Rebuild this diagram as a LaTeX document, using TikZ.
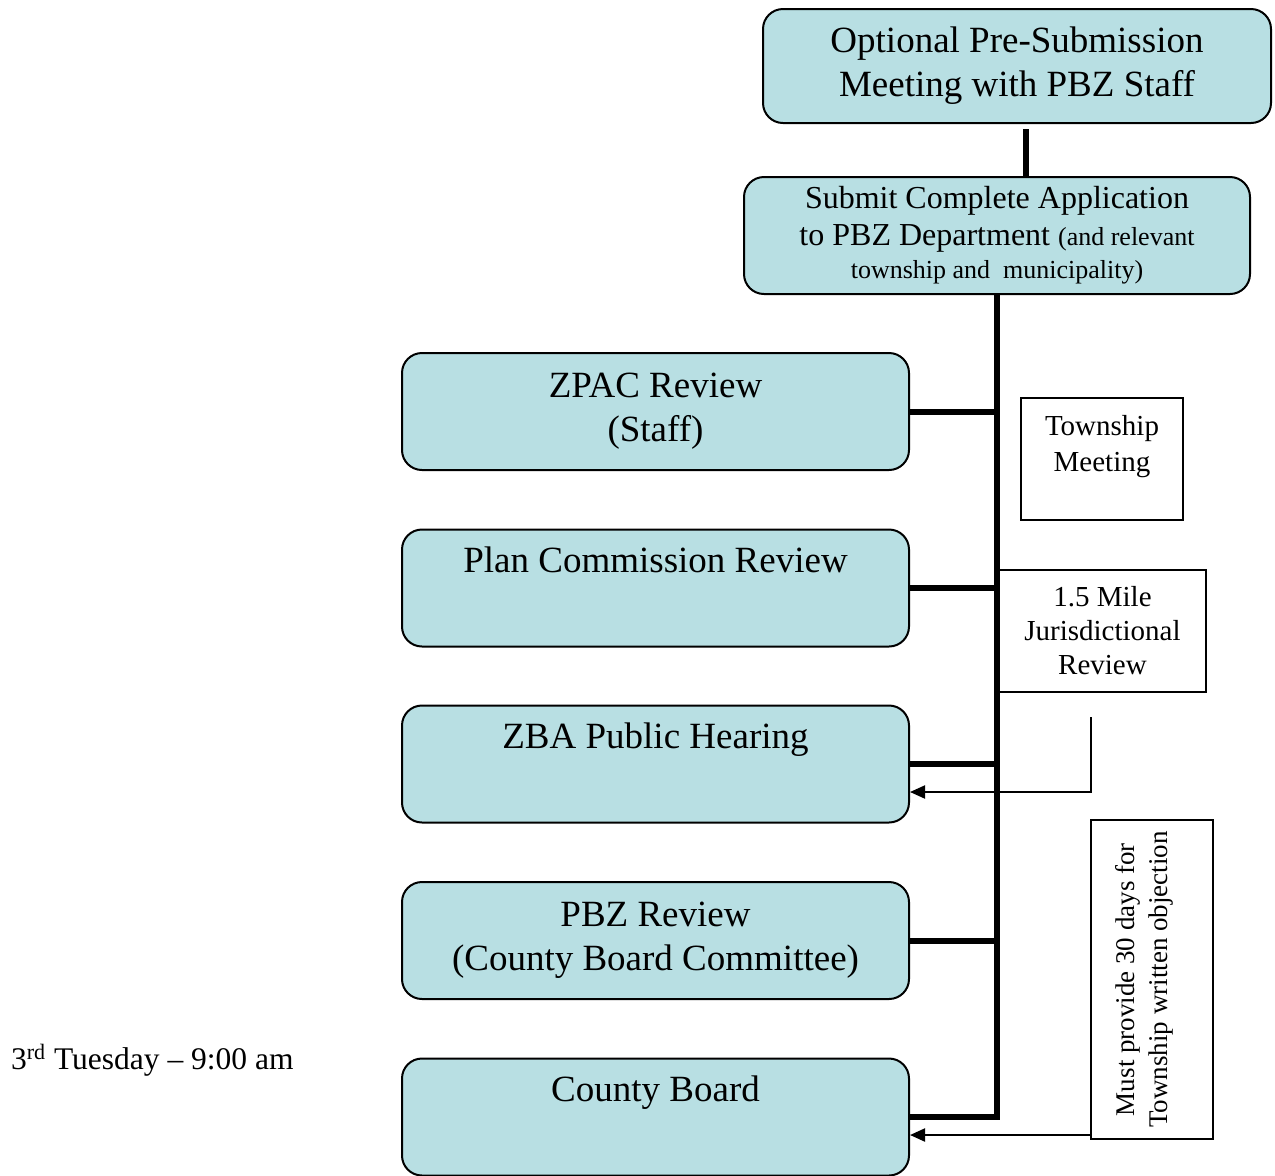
\documentclass[tikz,border=0pt]{standalone}
\usepackage{fontspec}
\setmainfont{Liberation Serif}
\usetikzlibrary{arrows.meta,positioning}
\definecolor{stagefill}{RGB}{184,223,227}

\begin{document}
\begin{tikzpicture}[x=0.5pt,y=-0.5pt]
\tikzstyle{stage} = [rectangle, draw, rounded corners=10pt, fill=stagefill, line width=1pt, align=center, minimum width=253.5pt, minimum height=58.5pt, inner sep=0pt, font=\fontsize{18.5}{22}\selectfont]
\tikzstyle{note} = [rectangle, draw, line width=0.8pt, align=center, inner sep=0pt, font=\fontsize{14.5}{17}\selectfont]
\tikzstyle{spine} = [line width=3pt]
\tikzstyle{feed} = [-{Triangle[length=7.5pt,width=6.5pt]}, line width=1pt]
\useasboundingbox (0,0) rectangle (1275,1175);
\node[stage, minimum width=254pt, minimum height=57pt] (pre) at (1017,66) {Optional Pre-Submission\\Meeting with PBZ Staff};
\node[stage, minimum width=253pt, font=\fontsize{16}{18.5}\selectfont] (submit) at (997,235.5) {Submit Complete Application\\to PBZ Department {\fontsize{13}{14}\selectfont(and relevant}\\[-2pt]{\fontsize{13}{14}\selectfont township and\ \ municipality)}};
\node[stage] (zpac) at (655.5,411.5) {ZPAC Review\\(Staff)};
\node[stage] (plan) at (655.5,588) {Plan Commission Review\\\strut};
\node[stage] (zba) at (655.5,764) {ZBA Public Hearing\\\strut};
\node[stage] (pbz) at (655.5,940.5) {PBZ Review\\(County Board Committee)};
\node[stage] (county) at (655.5,1117) {County Board\\\strut};
\node[note, minimum width=81pt, minimum height=61pt, font=\fontsize{14.5}{18}\selectfont] (township) at (1102,459) {Township\\Meeting\\[-8pt]\strut};
\node[note, minimum width=103.5pt, minimum height=61pt] (mile) at (1102.5,631) {1.5 Mile\\Jurisdictional\\Review};
\node[note, rotate=90, minimum width=159.5pt, minimum height=61pt, font=\fontsize{13.5}{16.5}\selectfont] (objection) at (1152,979.5) {Must provide 30 days for\\Township written objection\\[-6pt]\ };
\node[anchor=west, font=\fontsize{15.75}{18}\selectfont] (meet) at (4,1060) {3\textsuperscript{rd} Tuesday -- 9:00 am};
\draw[spine, shorten <=2.5pt] ([xshift=4.5pt]pre.south) -- ([xshift=4.5pt]pre.south |- submit.north);
\draw[spine] (submit.south) |- (county.east);
\foreach \stg in {zpac,plan,zba,pbz}
  \draw[spine] (\stg.east) -- (\stg.east -| submit.south);
\coordinate (mileEnd) at (1091,717);
\draw[feed] (mileEnd) |- ([yshift=-14pt]zba.east);
\draw[feed] ([yshift=-9pt]county.east -| objection.north) -- ([yshift=-9pt]county.east);
\end{tikzpicture}
\end{document}
